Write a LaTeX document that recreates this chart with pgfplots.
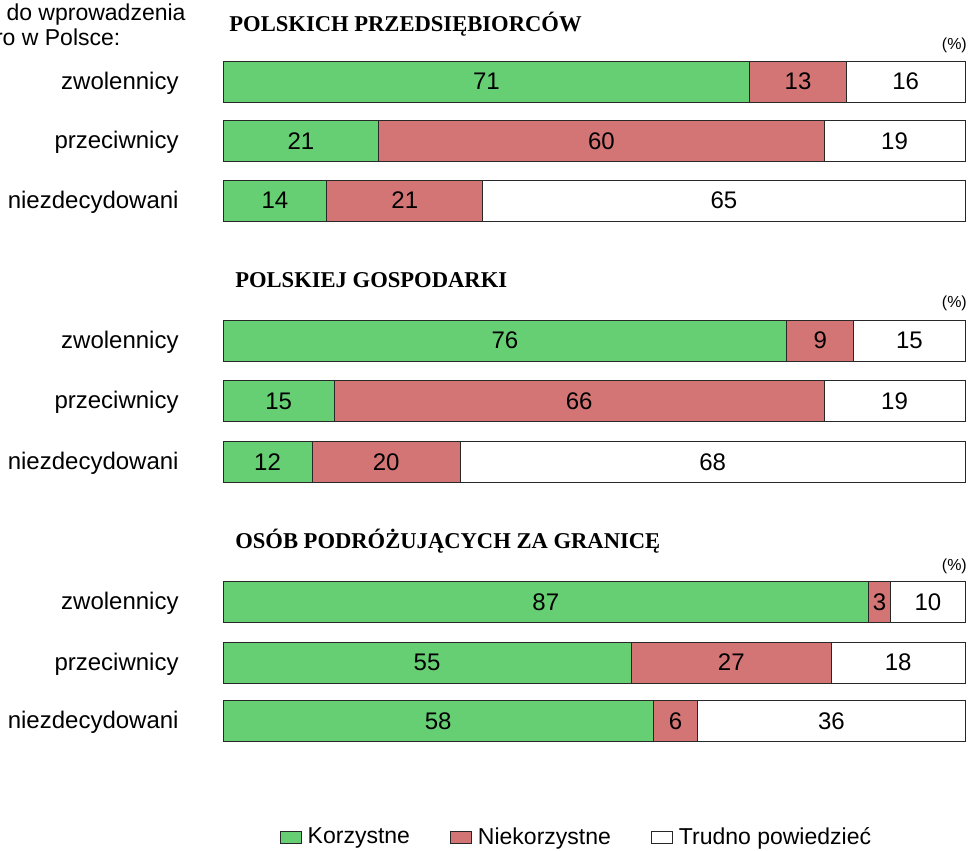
\documentclass[border=0pt]{standalone}
\usepackage{pgfplots}
\usepackage{pgfplotstable}
\pgfplotsset{compat=1.18}
\usepackage{fontspec}
\setmainfont{Liberation Sans}
\newfontfamily\serifbold{Liberation Serif}
\definecolor{kgreen}{RGB}{102,207,115}
\definecolor{kred}{RGB}{212,117,117}
\definecolor{edge}{RGB}{40,40,40}

\pgfplotstableread{
y a b c
81.5 71 13 16
141 21 60 19
200.5 14 21 65
340.5 76 9 15
401 15 66 19
462 12 20 68
602 87 3 10
662.5 55 27 18
721 58 6 36
}\data

\pgfplotsset{base/.style={width=371pt,height=425.5pt,scale only axis,
  xmin=0,xmax=100,ymin=0,ymax=851,y dir=reverse,hide axis,clip=false,
  at={(111.5pt,0pt)},anchor=north west}}

\newcommand{\lbl}{\fontsize{12}{14}\selectfont}
\newcommand{\ttl}{\serifbold\bfseries\fontsize{11.3}{13}\selectfont}
\tikzset{rowlbl/.style={anchor=base east,font=\lbl,inner sep=0pt},
  ttlnode/.style={anchor=west,font=\ttl,inner sep=0pt},
  pct/.style={anchor=east,font=\fontsize{8}{9}\selectfont,inner sep=0pt}}

\begin{document}
\begin{tikzpicture}
\useasboundingbox (0,-425.5pt) rectangle (485pt,0pt);
\clip (0,-425.5pt) rectangle (485pt,0pt);
\begin{axis}[base, xbar stacked, bar width=41,
  legend columns=3,
  legend style={at={(axis cs:47.9,837.5)},anchor=center,draw=none,fill=none,
    font=\fontsize{11.5}{13}\selectfont,
    nodes={inner xsep=3pt},
    /tikz/every even column/.append style={column sep=17pt}},
  legend image code/.code={\draw[#1,draw=edge,line width=0.5pt] (0pt,-3pt) rectangle (10.5pt,3pt);}]
\addplot[fill=kgreen,draw=edge,line width=0.5pt] table[x=a,y=y]{\data};
\addplot[fill=kred,draw=edge,line width=0.5pt] table[x=b,y=y]{\data};
\addplot[fill=white,draw=edge,line width=0.5pt] table[x=c,y=y]{\data};
\legend{Korzystne,Niekorzystne,Trudno powiedzieć}
\end{axis}
\begin{axis}[base]
\addplot[draw=none, nodes near coords, point meta=explicit symbolic,
  every node near coord/.append style={anchor=center,font=\lbl,text=black}]
  table[x expr=\thisrow{a}/2, y=y, meta=a]{\data};
\addplot[draw=none, nodes near coords, point meta=explicit symbolic,
  every node near coord/.append style={anchor=center,font=\lbl,text=black}]
  table[x expr=\thisrow{a}+\thisrow{b}/2, y=y, meta=b]{\data};
\addplot[draw=none, nodes near coords, point meta=explicit symbolic,
  every node near coord/.append style={anchor=center,font=\lbl,text=black}]
  table[x expr=\thisrow{a}+\thisrow{b}+\thisrow{c}/2, y=y, meta=c]{\data};
% row labels
\node[rowlbl] at (axis cs:-5.93,89) {zwolennicy};
\node[rowlbl] at (axis cs:-5.93,148.5) {przeciwnicy};
\node[rowlbl] at (axis cs:-5.93,208) {niezdecydowani};
\node[rowlbl] at (axis cs:-5.93,348) {zwolennicy};
\node[rowlbl] at (axis cs:-5.93,408.5) {przeciwnicy};
\node[rowlbl] at (axis cs:-5.93,469.5) {niezdecydowani};
\node[rowlbl] at (axis cs:-5.93,609.5) {zwolennicy};
\node[rowlbl] at (axis cs:-5.93,670) {przeciwnicy};
\node[rowlbl] at (axis cs:-5.93,728.5) {niezdecydowani};
% titles
\node[ttlnode] at (axis cs:0.81,24) {POLSKICH PRZEDSIĘBIORCÓW};
\node[ttlnode] at (axis cs:1.6,280) {POLSKIEJ GOSPODARKI};
\node[ttlnode] at (axis cs:1.6,541) {OSÓB PODRÓŻUJĄCYCH ZA GRANICĘ};
% (%)
\node[pct] at (axis cs:100.3,45.5) {(\%)};
\node[pct] at (axis cs:100.3,303.5) {(\%)};
\node[pct] at (axis cs:100.3,566.5) {(\%)};
\node[align=center,font=\fontsize{11.5}{12.5}\selectfont,inner sep=0pt] at (axis cs:-24.0,24.5)
  {Stosunek do wprowadzenia\\euro w Polsce:};
\end{axis}
\end{tikzpicture}
\end{document}
